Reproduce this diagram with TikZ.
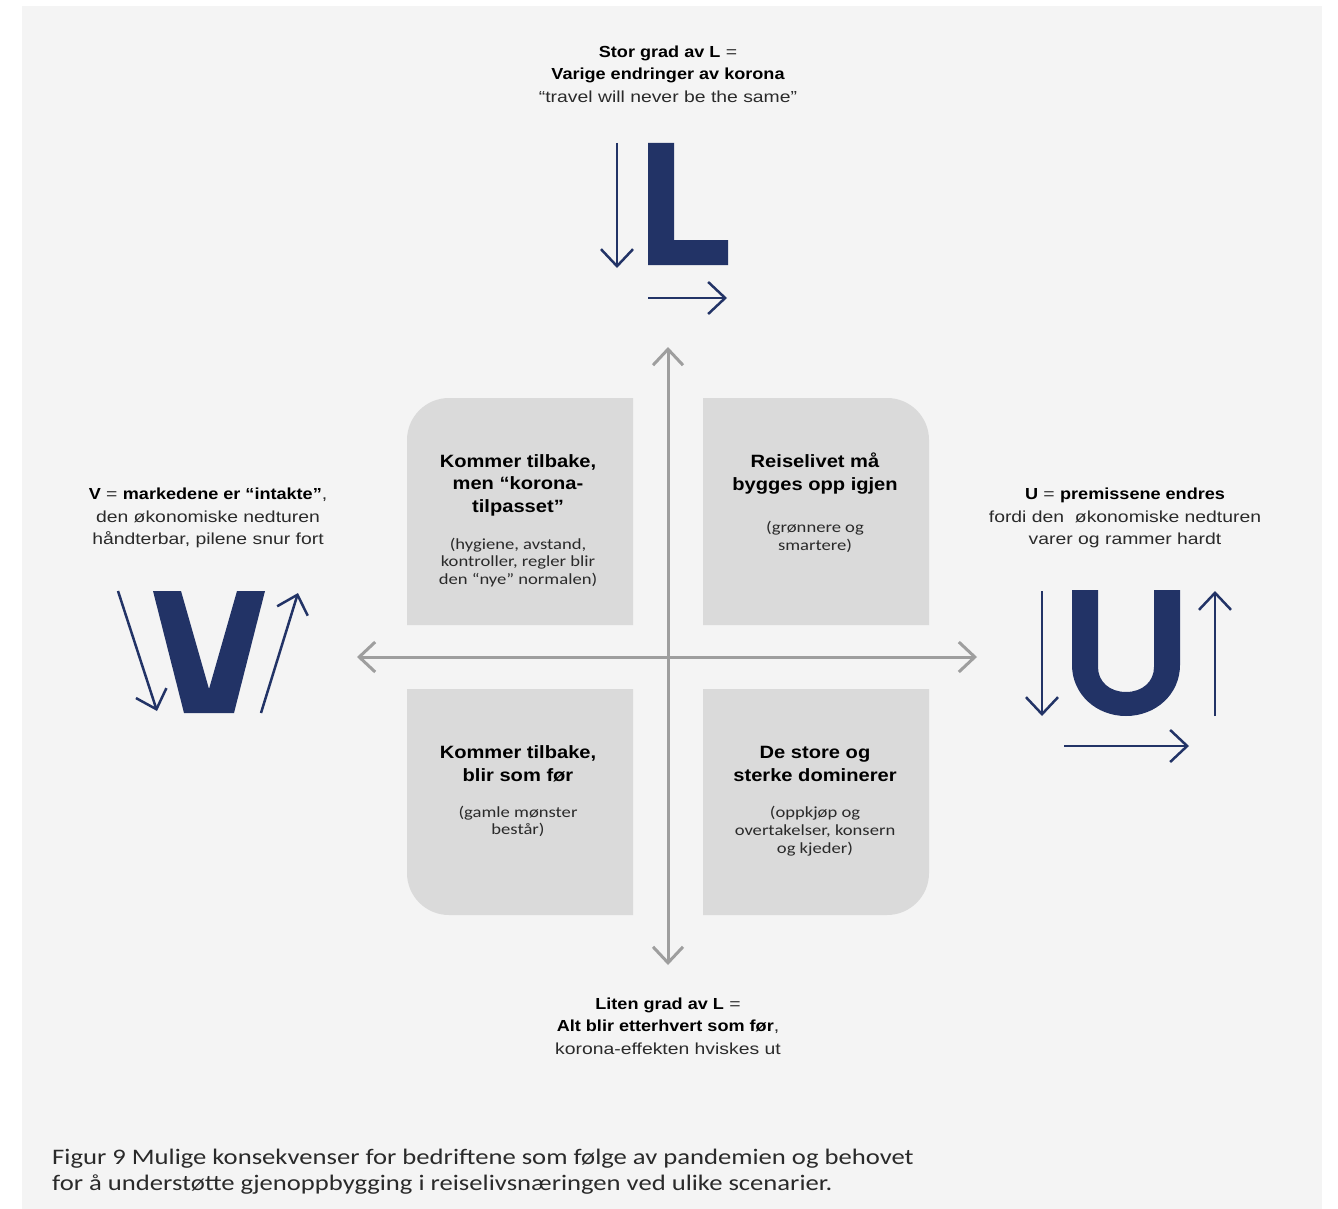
\documentclass[tikz,border=0pt]{standalone}
\usepackage{fontspec}
\setmainfont{Liberation Sans}[FakeStretch=1.21,BoldFeatures={FakeStretch=1.13}]
\newfontfamily\calfont{Carlito}[FakeStretch=1.2]
\usetikzlibrary{arrows.meta}
\definecolor{panel}{HTML}{F4F4F4}
\definecolor{qfill}{HTML}{DADADA}
\definecolor{axisgray}{HTML}{9E9E9E}
\definecolor{navy}{HTML}{223366}
\definecolor{txt}{HTML}{2A2A2A}
\begin{document}
\begin{tikzpicture}[x=1pt,y=-1pt,
  qbox/.style={fill=qfill},
  axis/.style={draw=axisgray,line width=3pt,{Straight Barb[length=16pt,width=30pt]}-{Straight Barb[length=16pt,width=30pt]}},
  navyarrow/.style={draw=navy,line width=2.5pt,-{Straight Barb[length=17pt,width=32pt]}},
  letter/.style={fill=navy},
  lbl/.style={align=center,text=txt,font=\fontsize{16}{22.5}\selectfont,inner sep=0pt},
  qtitle/.style={align=center,text=black,font=\fontsize{17.8}{22.5}\selectfont\bfseries,inner sep=0pt},
  qsub/.style={align=center,text=txt,font=\calfont\fontsize{15.5}{17.8}\selectfont,inner sep=0pt},
  caption/.style={align=left,anchor=west,text=txt,font=\calfont\fontsize{22.2}{26}\selectfont,inner sep=0pt}
]
\useasboundingbox (0,0) rectangle (1338,1209);
\fill[white] (0,0) rectangle (1338,1209);
\fill[panel] (22,6) rectangle (1322,1209);

% quadrant boxes
\fill[qbox] (633,625) -- (407,625) -- (407,440) arc(180:270:42) -- (633,398) -- cycle;
\fill[qbox] (703,625) -- (703,398) -- (887,398) arc(270:360:42) -- (929,625) -- cycle;
\fill[qbox] (633,689) -- (407,689) -- (407,873) arc(180:90:42) -- (633,915) -- cycle;
\fill[qbox] (703,689) -- (929,689) -- (929,873) arc(0:90:42) -- (703,915) -- cycle;

% axes
\coordinate (ytop) at (668,347);
\coordinate (ybot) at (668,965);
\coordinate (xleft) at (357,657);
\coordinate (xright) at (977,657);
\draw[axis] (ytop) -- (ybot);
\draw[axis] (xleft) -- (xright);

% quadrant texts
\node[qtitle] (tlt) at (518,485) {Kommer tilbake,\\men “korona-\\tilpasset”};
\node[qsub] (tls) at (518,562.5) {(hygiene, avstand,\\kontroller, regler blir\\den “nye” normalen)};
\node[qtitle] (trt) at (815,473.5) {Reiselivet må\\bygges opp igjen};
\node[qsub] (trs) at (815,537) {(grønnere og\\smartere)};
\node[qtitle] (blt) at (518,764) {Kommer tilbake,\\blir som før};
\node[qsub] (bls) at (518,821.5) {(gamle mønster\\består)};
\node[qtitle] (brt) at (815,764) {De store og\\sterke dominerer};
\node[qsub] (brs) at (815,831) {(oppkjøp og\\overtakelser, konsern\\og kjeder)};

% top label and L
\node[lbl] (toplbl) at (668,74) {\textbf{\color{black}Stor grad av L} =\\\textbf{\color{black}Varige endringer av korona}\\“travel will never be the same”};
\fill[letter] (648,143) -- (674,143) -- (674,240) -- (728,240) -- (728,265) -- (648,265) -- cycle;
\coordinate (la1) at (617,143);
\coordinate (la2) at (617,268);
\coordinate (lb1) at (648,298);
\coordinate (lb2) at (727,298);
\draw[navyarrow] (la1) -- (la2);
\draw[navyarrow] (lb1) -- (lb2);

% V
\node[lbl] (vlbl) at (208,518) {\textbf{\color{black}V} = \textbf{\color{black}markedene er “intakte”},\\den økonomiske nedturen\\håndterbar, pilene snur fort};
\fill[letter] (153,591) -- (181,591) -- (209,689) -- (237,591) -- (265,591) -- (234,713) -- (184,713) -- cycle;
\coordinate (va1) at (118,591);
\coordinate (va2) at (157,711);
\coordinate (vb1) at (261,713);
\coordinate (vb2) at (298,593);
\draw[navyarrow] (va1) -- (va2);
\draw[navyarrow] (vb1) -- (vb2);

% U
\node[lbl] (ulbl) at (1125,518) {\textbf{\color{black}U} = \textbf{\color{black}premissene endres}\\fordi den\ \ økonomiske nedturen\\varer og rammer hardt};
\fill[letter] (1072,590) -- (1072,665) .. controls (1072,694) and (1096,716) .. (1126,716) .. controls (1156,716) and (1180,694) .. (1180,665) -- (1180,590) -- (1154,590) -- (1154,667) .. controls (1154,682) and (1142,692) .. (1126,692) .. controls (1110,692) and (1098,682) .. (1098,667) -- (1098,590) -- cycle;
\coordinate (ua1) at (1042,591);
\coordinate (ua2) at (1042,716);
\coordinate (ub1) at (1215,716);
\coordinate (ub2) at (1215,591);
\coordinate (uc1) at (1064,746);
\coordinate (uc2) at (1189,746);
\draw[navyarrow] (ua1) -- (ua2);
\draw[navyarrow] (ub1) -- (ub2);
\draw[navyarrow] (uc1) -- (uc2);

% bottom label
\node[lbl] (botlbl) at (668,1026) {\textbf{\color{black}Liten grad av L} =\\\textbf{\color{black}Alt blir etterhvert som før},\\korona-effekten hviskes ut};

% caption
\node[caption] (cap) at (52,1172) {Figur 9 Mulige konsekvenser for bedriftene som følge av pandemien og behovet\\for å understøtte gjenoppbygging i reiselivsnæringen ved ulike scenarier.};
\end{tikzpicture}
\end{document}
